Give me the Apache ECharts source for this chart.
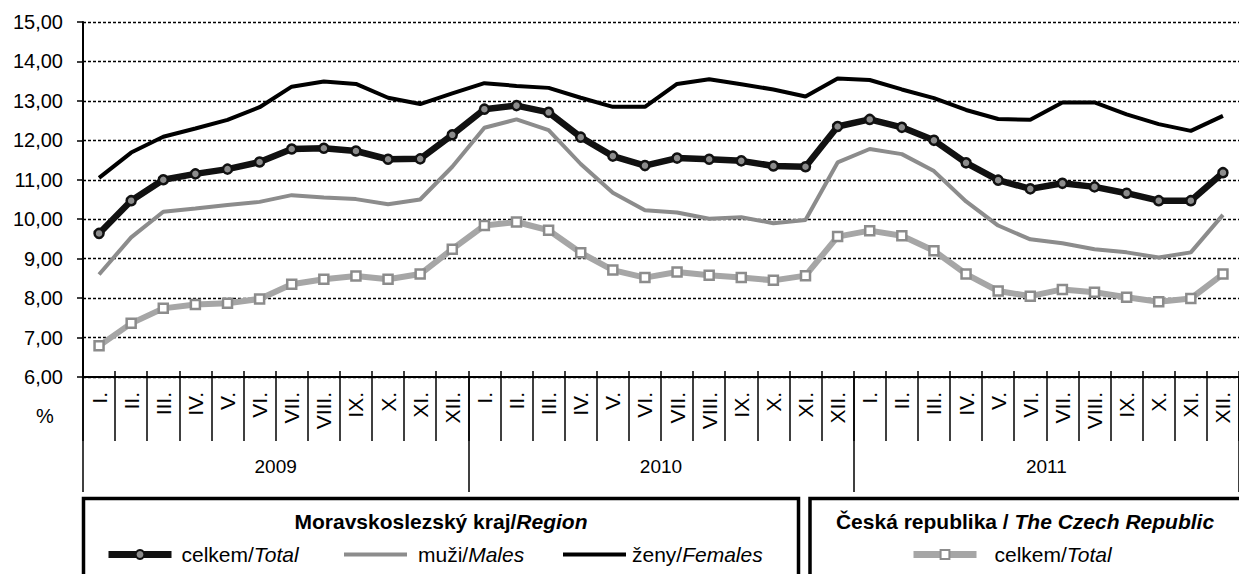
<!DOCTYPE html>
<html>
<head>
<meta charset="utf-8">
<script src="https://cdn.jsdelivr.net/npm/echarts@6/dist/echarts.min.js"></script>
<style>
html,body{margin:0;padding:0;background:#fff;}
#chart{width:1239px;height:574px;}
</style>
</head>
<body>
<div id="chart"></div>
<script>
// ---- data ----
const months = ['I.','II.','III.','IV.','V.','VI.','VII.','VIII.','IX.','X.','XI.','XII.'];
const years = ['2009','2010','2011'];
const yTicks = [6,7,8,9,10,11,12,13,14,15];

const femalesMSK = [11.05,11.69,12.09,12.30,12.52,12.84,13.36,13.49,13.43,13.08,12.92,13.19,
                    13.45,13.38,13.33,13.08,12.85,12.85,13.43,13.55,13.42,13.29,13.11,13.57,
                    13.53,13.29,13.07,12.77,12.54,12.52,12.96,12.96,12.66,12.41,12.24,12.62];
const totalMSK   = [9.64,10.47,11.00,11.15,11.27,11.45,11.78,11.80,11.73,11.52,11.53,12.14,
                    12.79,12.88,12.71,12.08,11.60,11.36,11.55,11.52,11.48,11.35,11.33,12.35,
                    12.53,12.33,12.00,11.43,10.99,10.77,10.91,10.82,10.66,10.47,10.47,11.18];
const malesMSK   = [8.60,9.54,10.19,10.27,10.36,10.44,10.61,10.55,10.51,10.38,10.50,11.33,
                    12.32,12.53,12.26,11.40,10.67,10.23,10.17,10.01,10.05,9.90,9.98,11.44,
                    11.78,11.65,11.22,10.45,9.84,9.49,9.39,9.24,9.16,9.03,9.16,10.11];
const totalCR    = [6.79,7.36,7.74,7.84,7.87,7.98,8.35,8.48,8.56,8.48,8.61,9.24,
                    9.84,9.93,9.72,9.15,8.71,8.52,8.66,8.58,8.52,8.45,8.57,9.56,
                    9.71,9.58,9.20,8.61,8.18,8.05,8.22,8.15,8.02,7.91,7.99,8.61];

const seriesNames = {
  mskTotal: 'MSK celkem',
  mskMales: 'MSK muži',
  mskFemales: 'MSK ženy',
  crTotal: 'ČR celkem'
};
const legendLabels = {
  'MSK celkem': ['celkem/','Total'],
  'MSK muži': ['muži/','Males'],
  'MSK ženy': ['ženy/','Females'],
  'ČR celkem': ['celkem/','Total']
};

// ---- build ----
const categories = [];
years.forEach(() => months.forEach(m => categories.push(m)));

const FONT = '"Liberation Sans", Arial, sans-serif';
const chart = echarts.init(document.getElementById('chart'), null, {renderer: 'svg'});

function legendFor(name, left, top, padLeft, extra) {
  return Object.assign({
    data: [name],
    left: left, top: top,
    orient: 'horizontal',
    itemWidth: 63, itemHeight: 11,
    selectedMode: false,
    padding: 0,
    formatter: n => '{n|' + legendLabels[n][0] + '}{i|' + legendLabels[n][1] + '}',
    textStyle: {
      fontFamily: FONT, fontSize: 21, color: '#000',
      padding: [0,0,0,padLeft],
      rich: {
        n: {fontFamily: FONT, fontSize: 21, color: '#000'},
        i: {fontFamily: FONT, fontSize: 21, color: '#000', fontStyle: 'italic'}
      }
    }
  }, extra || {});
}

const option = {
  animation: false,
  backgroundColor: '#fff',
  textStyle: {fontFamily: FONT},
  grid: {left: 83, top: 22, width: 1163, height: 355, containLabel: false},
  xAxis: [
    {
      type: 'category', data: categories, position: 'bottom', boundaryGap: true,
      axisLine: {show: true, lineStyle: {color: '#000', width: 2}},
      axisTick: {show: true, interval: 0, length: 64, lineStyle: {color: '#000', width: 1.5}},
      axisLabel: {interval: 0, rotate: 90, margin: 15, fontFamily: FONT, fontSize: 21, color: '#000'},
      splitLine: {show: false}
    },
    {
      type: 'category', data: categories, position: 'bottom', boundaryGap: true,
      axisLine: {show: false},
      axisTick: {show: true, inside: true, interval: 0, length: 6, lineStyle: {color: '#000', width: 1.5}},
      axisLabel: {show: false},
      splitLine: {show: false}
    },
    {
      type: 'category', data: years, position: 'bottom', boundaryGap: true,
      axisLine: {show: false},
      axisTick: {show: true, interval: 0, length: 115, lineStyle: {color: '#000', width: 1.5}},
      axisLabel: {interval: 0, margin: 80, fontFamily: FONT, fontSize: 19, color: '#000'},
      splitLine: {show: false}
    }
  ],
  yAxis: {
    type: 'value', min: yTicks[0], max: yTicks[yTicks.length - 1], interval: 1,
    axisLine: {show: true, lineStyle: {color: '#000', width: 2}},
    axisTick: {show: true, length: 6, lineStyle: {color: '#000', width: 1.5}},
    axisLabel: {
      margin: 20, fontFamily: FONT, fontSize: 20, color: '#000',
      formatter: v => v.toFixed(2).replace('.', ',')
    },
    splitLine: {show: true, lineStyle: {color: '#000', width: 1.3, type: [3, 2]}}
  },
  title: [
    {
      text: '{b|Moravskoslezský kraj/}{bi|Region}',
      left: 441, top: 511, textAlign: 'center', padding: 0,
      textStyle: {rich: {
        b: {fontFamily: FONT, fontSize: 21, fontWeight: 'bold', color: '#000'},
        bi: {fontFamily: FONT, fontSize: 21, fontWeight: 'bold', fontStyle: 'italic', color: '#000'}
      }}
    },
    {
      text: '{b|Česká republika / }{bi|The Czech Republic}',
      left: 1025, top: 511, textAlign: 'center', padding: 0,
      textStyle: {rich: {
        b: {fontFamily: FONT, fontSize: 21, fontWeight: 'bold', color: '#000'},
        bi: {fontFamily: FONT, fontSize: 21, fontWeight: 'bold', fontStyle: 'italic', color: '#000'}
      }}
    }
  ],
  legend: [
    legendFor(seriesNames.mskTotal, 105, 544, 5, {lineStyle: {width: 7}}),
    legendFor(seriesNames.mskMales, 344, 544, 6, {icon: 'rect', itemHeight: 4}),
    legendFor(seriesNames.mskFemales, 563, 544, 1, {icon: 'rect', itemHeight: 4}),
    legendFor(seriesNames.crTotal, 910, 544, 13, {lineStyle: {width: 7}})
  ],
  graphic: [
    {type: 'text', left: 36, top: 406, style: {text: '%', fontFamily: FONT, fontSize: 20, fill: '#000'}},
    {type: 'rect', shape: {x: 83.5, y: 498.5, width: 715, height: 200},
     style: {fill: 'none', stroke: '#000', lineWidth: 3.5}},
    {type: 'rect', shape: {x: 810, y: 498.5, width: 600, height: 200},
     style: {fill: 'none', stroke: '#000', lineWidth: 3.5}}
  ],
  series: [
    {
      name: seriesNames.mskMales, type: 'line', data: malesMSK,
      showSymbol: false, symbol: 'none',
      lineStyle: {color: '#8c8c8c', width: 4},
      itemStyle: {color: '#8c8c8c'}, z: 2
    },
    {
      name: seriesNames.mskFemales, type: 'line', data: femalesMSK,
      showSymbol: false, symbol: 'none',
      lineStyle: {color: '#000', width: 4},
      itemStyle: {color: '#000'}, z: 3
    },
    {
      name: seriesNames.crTotal, type: 'line', data: totalCR,
      symbol: 'rect', symbolSize: 9, showSymbol: true,
      lineStyle: {color: '#a6a6a6', width: 6},
      itemStyle: {color: '#fff', borderColor: '#8c8c8c', borderWidth: 2.5}, z: 4
    },
    {
      name: seriesNames.mskTotal, type: 'line', data: totalMSK,
      symbol: 'circle', symbolSize: 9, showSymbol: true,
      lineStyle: {color: '#111', width: 6.5},
      itemStyle: {color: '#8c8c8c', borderColor: '#111', borderWidth: 2.5}, z: 5
    }
  ]
};
chart.setOption(option);
</script>
</body>
</html>
